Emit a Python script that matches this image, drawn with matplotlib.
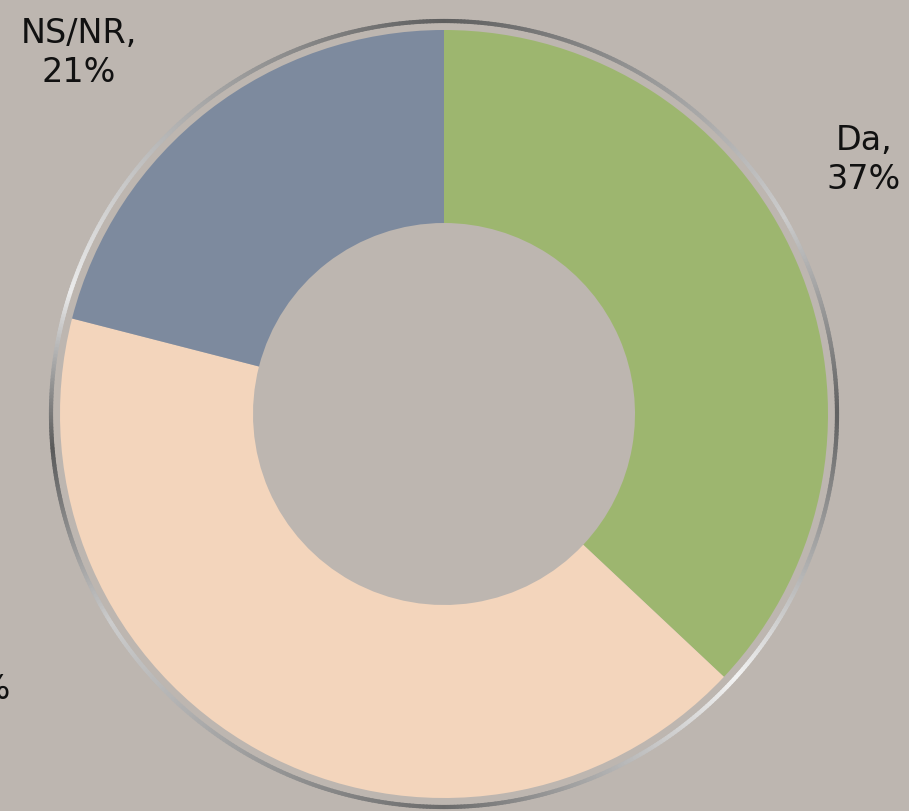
import numpy as np
import matplotlib
matplotlib.use('Agg')
import matplotlib.pyplot as plt
from matplotlib.collections import LineCollection

labels = ["Da", "Nu", "NS/NR"]
values = [37, 42, 21]
colors = ["#9DB66F", "#F3D5BC", "#7D8A9E"]
bg = "#BDB6B0"

W, H = 909, 811
cx, cy = 444, H - 414
r_out, r_in = 384, 191

fig = plt.figure(figsize=(W / 100, H / 100), dpi=100, facecolor=bg)
ax = fig.add_axes([0, 0, 1, 1])
ax.set_facecolor(bg)

wedges, _ = ax.pie(values, colors=colors, startangle=90, counterclock=False,
                   center=(cx, cy), radius=r_out, frame=True,
                   wedgeprops=dict(width=r_out - r_in, linewidth=0))

# metallic ring around the donut (grey shade varies with angle)
ang = np.linspace(0, 360, 721)
node_a = [0, 30, 90, 162, 185, 212, 270, 318, 360]
node_g = [0.38, 0.80, 0.37, 0.92, 0.35, 0.80, 0.42, 0.95, 0.38]
shade = np.interp(ang, node_a, node_g)
rr = 393
xs = cx + rr * np.cos(np.radians(ang))
ys = cy + rr * np.sin(np.radians(ang))
pts = np.column_stack([xs, ys]).reshape(-1, 1, 2)
segs = np.concatenate([pts[:-1], pts[1:]], axis=1)
ring_cols = [(g, g, g) for g in shade[:-1]]
ax.add_collection(LineCollection(segs, colors=ring_cols, linewidths=3.0,
                                 capstyle='round'))

# labels outside the ring
label_pos = {"Da": (864, 160), "Nu": (-26, 670), "NS/NR": (79, 53)}
for lab, v in zip(labels, values):
    x, y = label_pos[lab]
    ax.text(x, H - y, f"{lab},\n{v}%", ha="center", va="center",
            fontsize=24, family="DejaVu Sans", color="#111111",
            linespacing=1.2)

ax.set_xlim(0, W)
ax.set_ylim(0, H)
ax.set_aspect('auto')
ax.axis('off')

fig.savefig("out.png", dpi=100, facecolor=bg)
